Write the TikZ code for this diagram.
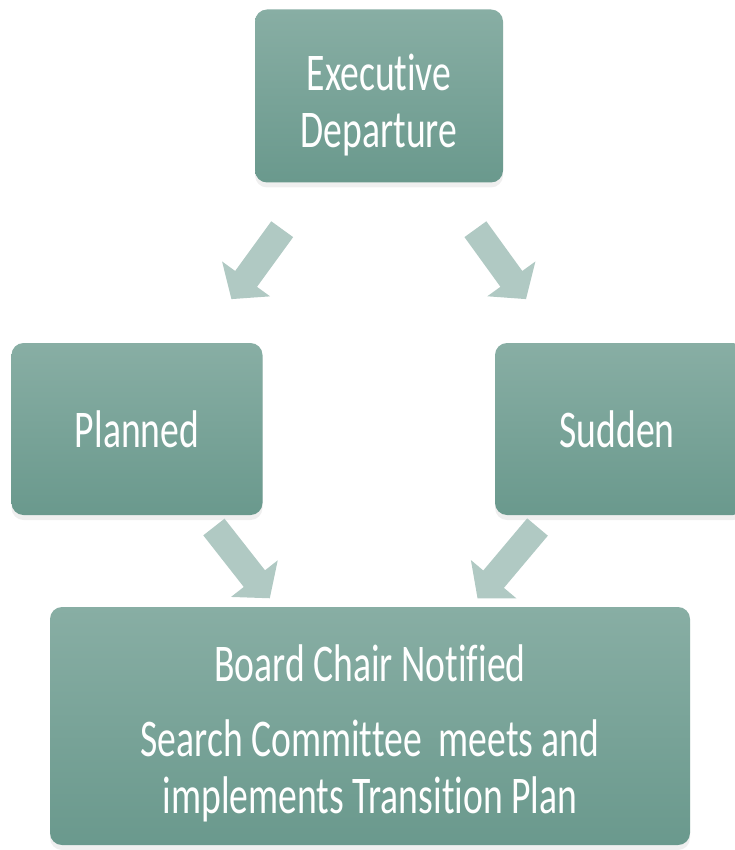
\documentclass[tikz,border=0pt]{standalone}
\usepackage{fontspec}
\setmainfont[FakeStretch=0.71,Ligatures={NoCommon}]{Carlito}
\usepackage{tikz}
\usetikzlibrary{arrows.meta,calc,shadows}
\definecolor{teal300}{HTML}{88AEA4}
\definecolor{teal500}{HTML}{6A998D}
\definecolor{teal100}{HTML}{B0C9C3}
\tikzstyle{etapa}=[rectangle, rounded corners=12pt, top color=teal300, bottom color=teal500, draw=none, text=white, align=center, font=\fontsize{53}{57}\selectfont, drop shadow={shadow xshift=0pt, shadow yshift=-5pt, fill=black!12}]
\tikzstyle{seta}=[draw=teal100, line width=27pt, -{Triangle[length=25pt,width=58pt]}]

\begin{document}
\begin{tikzpicture}[x=1pt,y=-1pt]
			\useasboundingbox (0,0) rectangle (735,850);
			\node[etapa, minimum width=248pt, minimum height=173pt] (saida) at (379,96) {\rule{0pt}{54pt}Executive\\Departure};
			\node[etapa, minimum width=251pt, minimum height=172pt] (planejada) at (137,429) {Planned};
			\node[etapa, minimum width=250pt, minimum height=172pt] (subita) at (620,429) {\hspace*{-6pt}Sudden};
			\node[etapa, minimum width=640pt, minimum height=238pt] (conselho) at (370,726) {\rule{0pt}{52pt}Board Chair Notified\\[18pt]Search Committee~ meets and\\implements Transition Plan};
			\path[seta]
				($(saida)!0.40!(planejada)$) -- ($(saida)!0.61!(planejada)$);
			\path[seta]
				($(saida)!0.40!(subita)$) -- ($(saida)!0.61!(subita)$);
			\path[seta]
				($(planejada)!0.33!(conselho)$) -- ($(planejada)!0.57!(conselho)$);
			\path[seta]
				($(subita)!0.33!(conselho)$) -- ($(subita)!0.57!(conselho)$);
		\end{tikzpicture}
\end{document}
